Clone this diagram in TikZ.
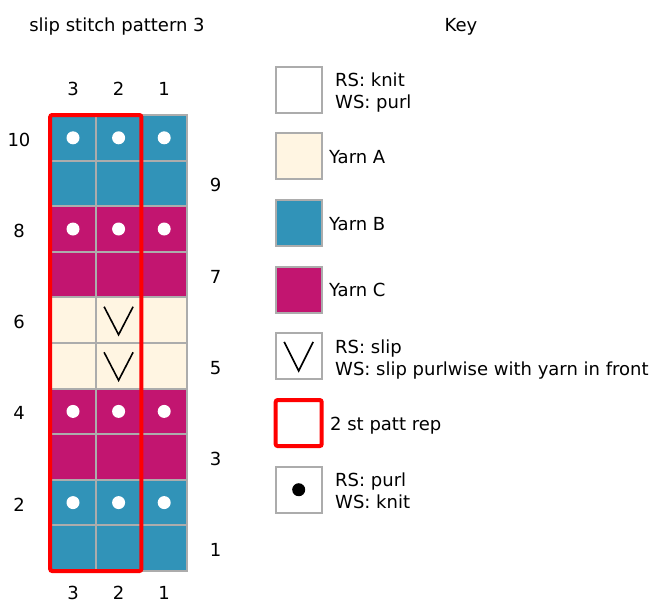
\documentclass[tikz,border=0pt]{standalone}
\usepackage{fontspec}
\setmainfont{DejaVu Sans}
\definecolor{yarnA}{RGB}{255,245,226}
\definecolor{yarnB}{RGB}{49,147,184}
\definecolor{yarnC}{RGB}{194,21,112}
\definecolor{gridgray}{RGB}{172,172,172}
\tikzset{
	cell/.style={draw=gridgray, line width=2pt, minimum size=45.6pt, inner sep=0pt, outer sep=0pt},
	keybox/.style={cell, minimum size=46pt},
	lbl/.style={font=\fontsize{18}{21.5}\selectfont, inner sep=0pt},
	purldot/.style={circle, fill=white, minimum size=13pt, inner sep=0pt},
	knitdot/.style={circle, fill=black, minimum size=13pt, inner sep=0pt},
	slipv/.style={line width=1.6pt, black},
	patrep/.style={red, line width=4pt, rounded corners=2pt},
}
\begin{document}
\begin{tikzpicture}[x=1pt, y=-1pt]
	\useasboundingbox (0,0) rectangle (657,603);
	% titles
	\node[lbl, anchor=base] (title) at (117,31.5) {slip stitch pattern 3};
	\node[lbl, anchor=base] (keytitle) at (461,31.5) {Key};
	% chart cells, row 1 at the bottom, column 1 at the right
	\foreach \r/\yarn in {1/yarnB,2/yarnB,3/yarnC,4/yarnC,5/yarnA,6/yarnA,7/yarnC,8/yarnC,9/yarnB,10/yarnB}
		\foreach \c in {1,2,3}
			\node[cell, fill=\yarn] (s\r-\c) at ({187-(\c-0.5)*45.6},{571-(\r-0.5)*45.6}) {};
	\foreach \r in {2,4,8,10}
		\foreach \c in {1,2,3}
			\node[purldot] (d\r-\c) at (s\r-\c) {};
	\foreach \r in {5,6}
		\draw[slipv] ([shift={(-14.5,-13.5)}]s\r-2.center) -- ([shift={(0,14.5)}]s\r-2.center) -- ([shift={(14.5,-13.5)}]s\r-2.center);
	\draw[patrep] (s10-3.north west) rectangle (s1-2.south east);
	% column numbers
	\foreach \c in {1,2,3} {
		\node[lbl, anchor=base] (ct\c) at ({187-(\c-0.5)*45.6},95) {\c};
		\node[lbl, anchor=base] (cb\c) at ({187-(\c-0.5)*45.6},599.5) {\c};
	}
	% row numbers
	\foreach \r in {2,4,6,8,10}
		\node[lbl] (rn\r) at (19,{573-(\r-0.5)*45.6}) {\r};
	\foreach \r in {1,3,5,7,9}
		\node[lbl] (rn\r) at (215.5,{573-(\r-0.5)*45.6}) {\r};
	% key
	\foreach \k/\yarn in {1/white,2/yarnA,3/yarnB,4/yarnC,5/white,7/white}
		\node[keybox, fill=\yarn] (k\k) at (298.7,{89.7+(\k-1)*66.67}) {};
	\node[keybox, draw=red, line width=4pt, rounded corners=2pt] (k6) at (298.7,{89.7+5*66.67}) {};
	\draw[slipv] ([shift={(-14.5,-14.5)}]k5.center) -- ([shift={(0,14.5)}]k5.center) -- ([shift={(14.5,-14.5)}]k5.center);
	\node[knitdot] (kd) at (k7) {};
	\node[lbl, anchor=north west, align=left] (t1) at (335,73) {RS: knit\\WS: purl};
	\node[lbl, anchor=base west] (t2) at (329,163.3) {Yarn A};
	\node[lbl, anchor=base west] (t3) at (329,230) {Yarn B};
	\node[lbl, anchor=base west] (t4) at (329,296.7) {Yarn C};
	\node[lbl, anchor=north west, align=left] (t5) at (335,339.7) {RS: slip\\WS: slip purlwise with yarn in front};
	\node[lbl, anchor=base west] (t6) at (330,430) {2 st patt rep};
	\node[lbl, anchor=north west, align=left] (t7) at (335,473) {RS: purl\\WS: knit};
\end{tikzpicture}
\end{document}
